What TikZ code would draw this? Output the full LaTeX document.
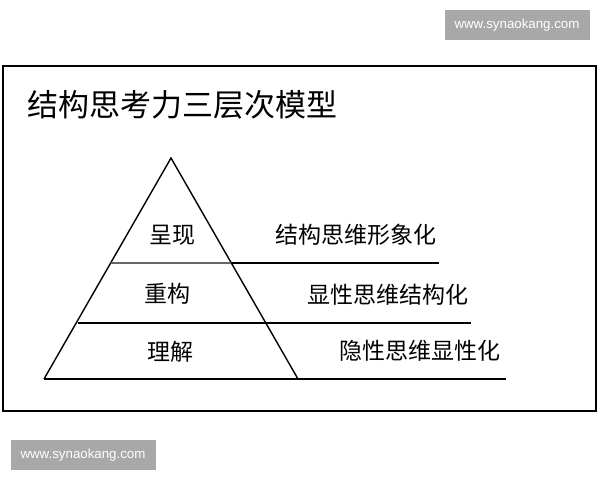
\documentclass[tikz,border=0pt]{standalone}
\usepackage{fontspec}
\setmainfont{Liberation Sans}
\newfontfamily\cjk{Noto Sans CJK SC}
\begin{document}
\begin{tikzpicture}[x=1pt,y=-1pt,
  wm/.style={fill=black!34,text=white,inner sep=0pt,minimum width=145pt,minimum height=30pt,font=\fontsize{13.3}{13.3}\selectfont},
  lvl/.style={font=\cjk\fontsize{23}{23}\selectfont,inner sep=0pt},
  ln/.style={line width=1.4pt}]
\useasboundingbox (0,0) rectangle (600,480);
\node[wm] (wm1) at (517,25) {www.synaokang.com};
\node[wm] (wm2) at (83,455) {www.synaokang.com};
\draw[line width=2pt] (3,66) rectangle (596,411);
\node[font=\cjk\fontsize{31}{31}\selectfont,inner sep=0pt,anchor=west] (title) at (27,105) {结构思考力三层次模型};
\coordinate (apex) at (171,158);
\coordinate (bl) at (44,379);
\coordinate (br) at (298,379);
\coordinate (l1) at (111,263);
\coordinate (r1) at (231,263);
\coordinate (l2) at (78,323);
\coordinate (r2) at (265,323);
\coordinate (e1) at (439,263);
\coordinate (e2) at (471,323);
\coordinate (e3) at (506,379);
\draw[ln,line join=miter] (bl) -- (apex) -- (br);
\draw[ln,black!60] (l1) -- (r1);
\draw[ln] (r1) -- (e1);
\draw[ln] (l2) -- (e2);
\draw[ln] (bl) -- (e3);
\node[lvl] (a) at (172,235) {呈现};
\node[lvl] (b) at (167,294) {重构};
\node[lvl] (c) at (170,352) {理解};
\node[lvl,anchor=west] (ta) at (275,235) {结构思维形象化};
\node[lvl,anchor=west] (tb) at (307,295) {显性思维结构化};
\node[lvl,anchor=west] (tc) at (339,351) {隐性思维显性化};
\end{tikzpicture}
\end{document}
